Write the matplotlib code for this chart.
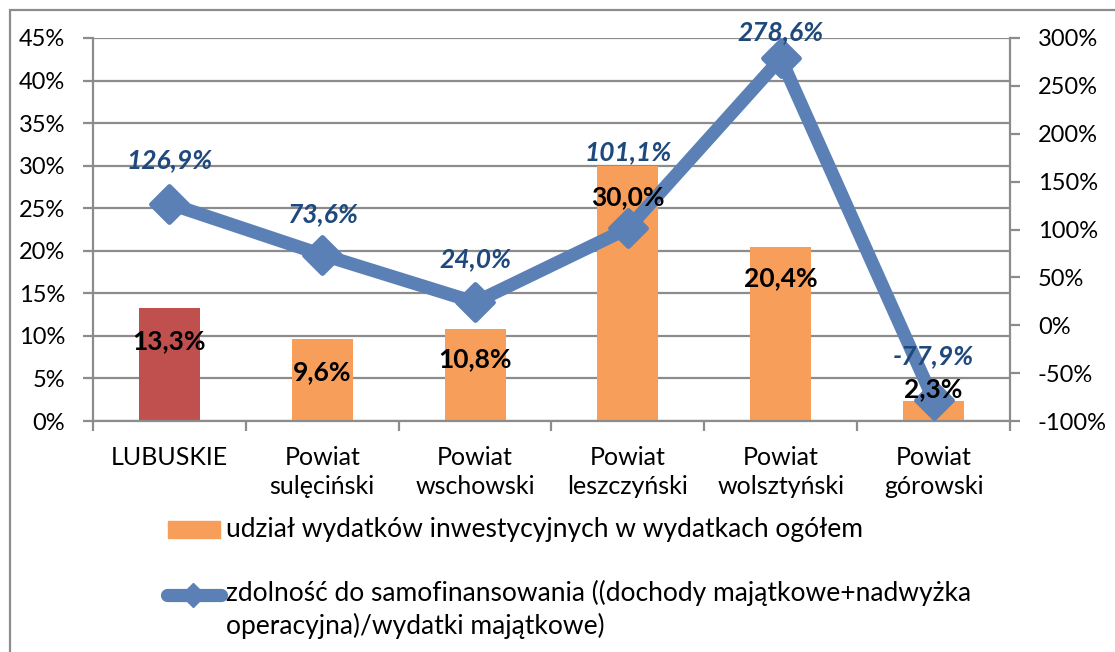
import numpy as np
import matplotlib.pyplot as plt
from matplotlib.lines import Line2D
from matplotlib.markers import MarkerStyle
from matplotlib.patches import Rectangle
from matplotlib.ticker import FuncFormatter

plt.rcParams['font.family'] = ['Lato', 'DejaVu Sans']

# --- Data ---
categories = ['LUBUSKIE', 'Powiat\nsulęciński', 'Powiat\nwschowski',
              'Powiat\nleszczyński', 'Powiat\nwolsztyński', 'Powiat\ngórowski']
invest_share = [13.3, 9.6, 10.8, 30.0, 20.4, 2.3]        # % (left axis)
self_finance = [126.9, 73.6, 24.0, 101.1, 278.6, -77.9]  # % (right axis)
bar_colors = ['#C0504D', '#F79E5B', '#F79E5B', '#F79E5B', '#F79E5B', '#F79E5B']

legend_bar = 'udział wydatków inwestycyjnych w wydatkach ogółem'
legend_line = ('zdolność do samofinansowania ((dochody majątkowe+nadwyżka\n'
               'operacyjna)/wydatki majątkowe)')

# label offsets in pixels relative to the mark
bar_label_dy = [-33, -33, -30, -31, -31, 12]
line_label_dy = [44, 41, 43, 76, 26, 44]

GRID = '#8C8C8C'
LINE = '#5B80B6'
W, H = 1115, 652
diamond = MarkerStyle('D', joinstyle='round')

fig = plt.figure(figsize=(W / 100, H / 100), dpi=100)
ax = fig.add_axes([93 / W, 1 - 421 / H, 917 / W, 383 / H])

x = np.arange(len(categories))
ax.bar(x, invest_share, width=0.4, color=bar_colors, zorder=2)
ax.set_xlim(-0.5, len(categories) - 0.5)
ax.set_ylim(0, 45)
ax.set_yticks(np.arange(0, 46, 5))
ax.yaxis.set_major_formatter(FuncFormatter(lambda v, p: f'{v:.0f}%'))
ax.yaxis.grid(True, color=GRID, linewidth=1.6, zorder=0)
ax.set_axisbelow(True)

ax.set_xticks(x)
ax.set_xticklabels(categories, fontsize=18, linespacing=1.3)
ax.set_xticks(np.arange(-0.5, len(categories), 1), minor=True)
ax.tick_params(axis='x', which='major', length=0, pad=18)
ax.tick_params(axis='x', which='minor', length=7, width=1.6, color=GRID)
ax.tick_params(axis='y', length=7, width=1.6, color=GRID, labelsize=17, pad=13)

for side in ['top', 'right']:
    ax.spines[side].set_visible(False)
for side in ['left', 'bottom']:
    ax.spines[side].set_color(GRID)
    ax.spines[side].set_linewidth(1.6)

# second axis for the line series
ax2 = ax.twinx()
ax2.set_ylim(-100, 300)
ax2.set_yticks(np.arange(-100, 301, 50))
ax2.yaxis.set_major_formatter(FuncFormatter(lambda v, p: f'{v:.0f}%'))
ax2.tick_params(axis='y', length=7, width=1.6, color=GRID, labelsize=17, pad=13)
for side in ['top', 'left', 'bottom']:
    ax2.spines[side].set_visible(False)
ax2.spines['right'].set_color(GRID)
ax2.spines['right'].set_linewidth(1.6)

ax2.plot(x, self_finance, color=LINE, linewidth=9.5, marker=diamond, markersize=18,
         markeredgewidth=3.5, markeredgecolor=LINE, solid_joinstyle='round',
         zorder=3)

# bar value labels sit on top of the line, so they go on ax2 using ax's data coords
for xi, v, dy in zip(x, invest_share, bar_label_dy):
    ax2.annotate(f'{v:.1f}%'.replace('.', ','), (xi, v), xycoords=ax.transData,
                 xytext=(0, dy * 0.72), textcoords='offset points',
                 ha='center', va='center', fontsize=19, fontweight='bold',
                 color='black', zorder=5)

for xi, v, dy in zip(x, self_finance, line_label_dy):
    ax2.annotate(f'{v:.1f}%'.replace('.', ','), (xi, v), xytext=(0, dy * 0.72),
                 textcoords='offset points', ha='center', va='center',
                 fontsize=19, fontweight='bold', fontstyle='italic',
                 color='#1F497D', zorder=6)

# legend drawn in figure coordinates
fig.patches.append(Rectangle((168 / W, 1 - 538 / H), 52 / W, 17 / H,
                             transform=fig.transFigure, color='#F79E5B'))
fig.text(226 / W, 1 - 529 / H, legend_bar, fontsize=19, va='center', ha='left')
fig.lines.append(Line2D([167 / W, 221 / W], [1 - 595 / H, 1 - 595 / H],
                        transform=fig.transFigure, color=LINE, linewidth=9.5,
                        solid_capstyle='round'))
fig.lines.append(Line2D([193 / W], [1 - 595 / H], transform=fig.transFigure,
                        color=LINE, marker='D', markersize=12))
fig.text(226 / W, 1 - 580 / H, legend_line, fontsize=19, va='top', ha='left',
         linespacing=1.3)

# chart border
fig.patches.append(Rectangle((10 / W, -0.05), 1.2, 1 - 10 / H + 0.05,
                             transform=fig.transFigure, fill=False,
                             edgecolor='#8C8C8C', linewidth=1.6))

fig.savefig('out.png', dpi=100)
